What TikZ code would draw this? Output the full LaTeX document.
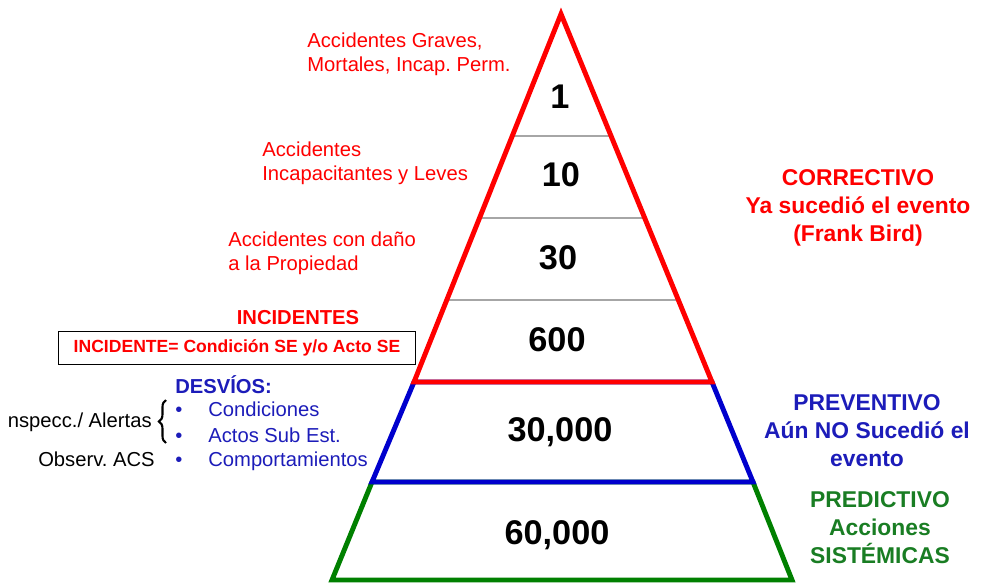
\documentclass[tikz,border=0pt]{standalone}
\usepackage{fontspec}
\setmainfont{Liberation Sans}
\usetikzlibrary{calc,decorations.pathreplacing}

\definecolor{pyrred}{RGB}{255,0,0}
\definecolor{pyrblue}{RGB}{0,0,205}
\definecolor{txtblue}{RGB}{28,28,185}
\definecolor{pyrgreen}{RGB}{0,128,0}
\definecolor{txtgreen}{RGB}{25,125,35}

\frenchspacing

\begin{document}
\begin{tikzpicture}[
    x=0.02cm, y=-0.02cm,
    num/.style={font=\fontsize{19.5}{23}\selectfont\bfseries, inner sep=0pt},
    lbl/.style={font=\fontsize{11.5}{13.6}\selectfont, align=left, text=pyrred, inner sep=0pt, anchor=west},
    sidetxt/.style={font=\fontsize{13}{15.9}\selectfont\bfseries, align=center, inner sep=0pt},
    rim/.style={line width=2.8pt},
    sep/.style={line width=1.1pt, color=black!35},
    desv/.style={font=\fontsize{11.5}{13.6}\selectfont, text=txtblue, anchor=base west, inner sep=0pt},
    blk/.style={font=\fontsize{11.5}{13.6}\selectfont, anchor=base east, inner sep=0pt},
]
\useasboundingbox (0,0) rectangle (981,585);

% pyramid corners
\coordinate (apex) at (561,14);
\coordinate (rl) at (414,382);
\coordinate (rr) at (712,382);
\coordinate (bl) at (372,482);
\coordinate (br) at (753,482);
\coordinate (gl) at (332,580);
\coordinate (gr) at (792,580);

% gray separators in the red part
\foreach \t in {0.332,0.554,0.778}
  \draw[sep] ($(apex)!\t!(rl)$) -- ($(apex)!\t!(rr)$);

\draw[rim, pyrgreen] (bl) -- (gl) -- (gr) -- (br) -- cycle;
\draw[rim, pyrblue] (rl) -- (bl) -- (br) -- (rr) -- cycle;
\draw[rim, pyrred] (apex) -- (rl) -- (rr) -- cycle;

% levels
\node[num] (n1) at (560,97) {1};
\node[num] (n10) at (561,175) {10};
\node[num] (n30) at (558,258) {30};
\node[num] (n600) at (557,340) {600};
\node[num] (n30k) at (560,432) {30,000};
\node[num] (n60k) at (557,535) {60,000};

% left labels
\node[lbl] (grav) at (307,54) {Accidentes Graves,\\Mortales, Incap. Perm.};
\node[lbl] (leves) at (262,163) {Accidentes\\Incapacitantes y Leves};
\node[lbl] (prop) at (228,253) {Accidentes con daño\\a la Propiedad};
\node[font=\fontsize{11.5}{13.6}\selectfont\bfseries, text=pyrred, inner sep=0pt] (incid) at (298,318) {INCIDENTES};
\node[draw, line width=0.6pt, minimum width=7.16cm, minimum height=0.66cm, inner sep=0pt,
      font=\fontsize{10}{12}\selectfont\bfseries, text=pyrred] (defin) at (237,348)
      {INCIDENTE= Condición SE y/o Acto SE};

% desvios
\node[font=\fontsize{11.5}{13.6}\selectfont\bfseries, text=txtblue, anchor=base west, inner sep=0pt] (desvios) at (175,393) {DESVÍOS:};
\node[desv] (b1) at (175,416) {•};
\node[desv] (b2) at (175,442) {•};
\node[desv] (b3) at (175,466) {•};
\node[desv] (cond) at (208,416) {Condiciones};
\node[desv] (actos) at (208,442) {Actos Sub Est.};
\node[desv] (comp) at (208,466) {Comportamientos};
\node[blk] (insp) at (152,427) {nspecc./ Alertas};
\node[blk] (obs) at (155,466) {Observ. ACS};
\draw[line width=1.2pt, decorate, decoration={brace, amplitude=4pt}] (166,443) -- (166,400);

% right labels
\node[sidetxt, text=pyrred] (corr) at (858,208) {CORRECTIVO\\Ya sucedió el evento\\(Frank Bird)};
\node[sidetxt, text=txtblue] (prev) at (867,431) {PREVENTIVO\\Aún NO Sucedió el\\evento};
\node[sidetxt, text=txtgreen] (pred) at (880,528) {PREDICTIVO\\Acciones\\SISTÉMICAS};
\end{tikzpicture}
\end{document}
